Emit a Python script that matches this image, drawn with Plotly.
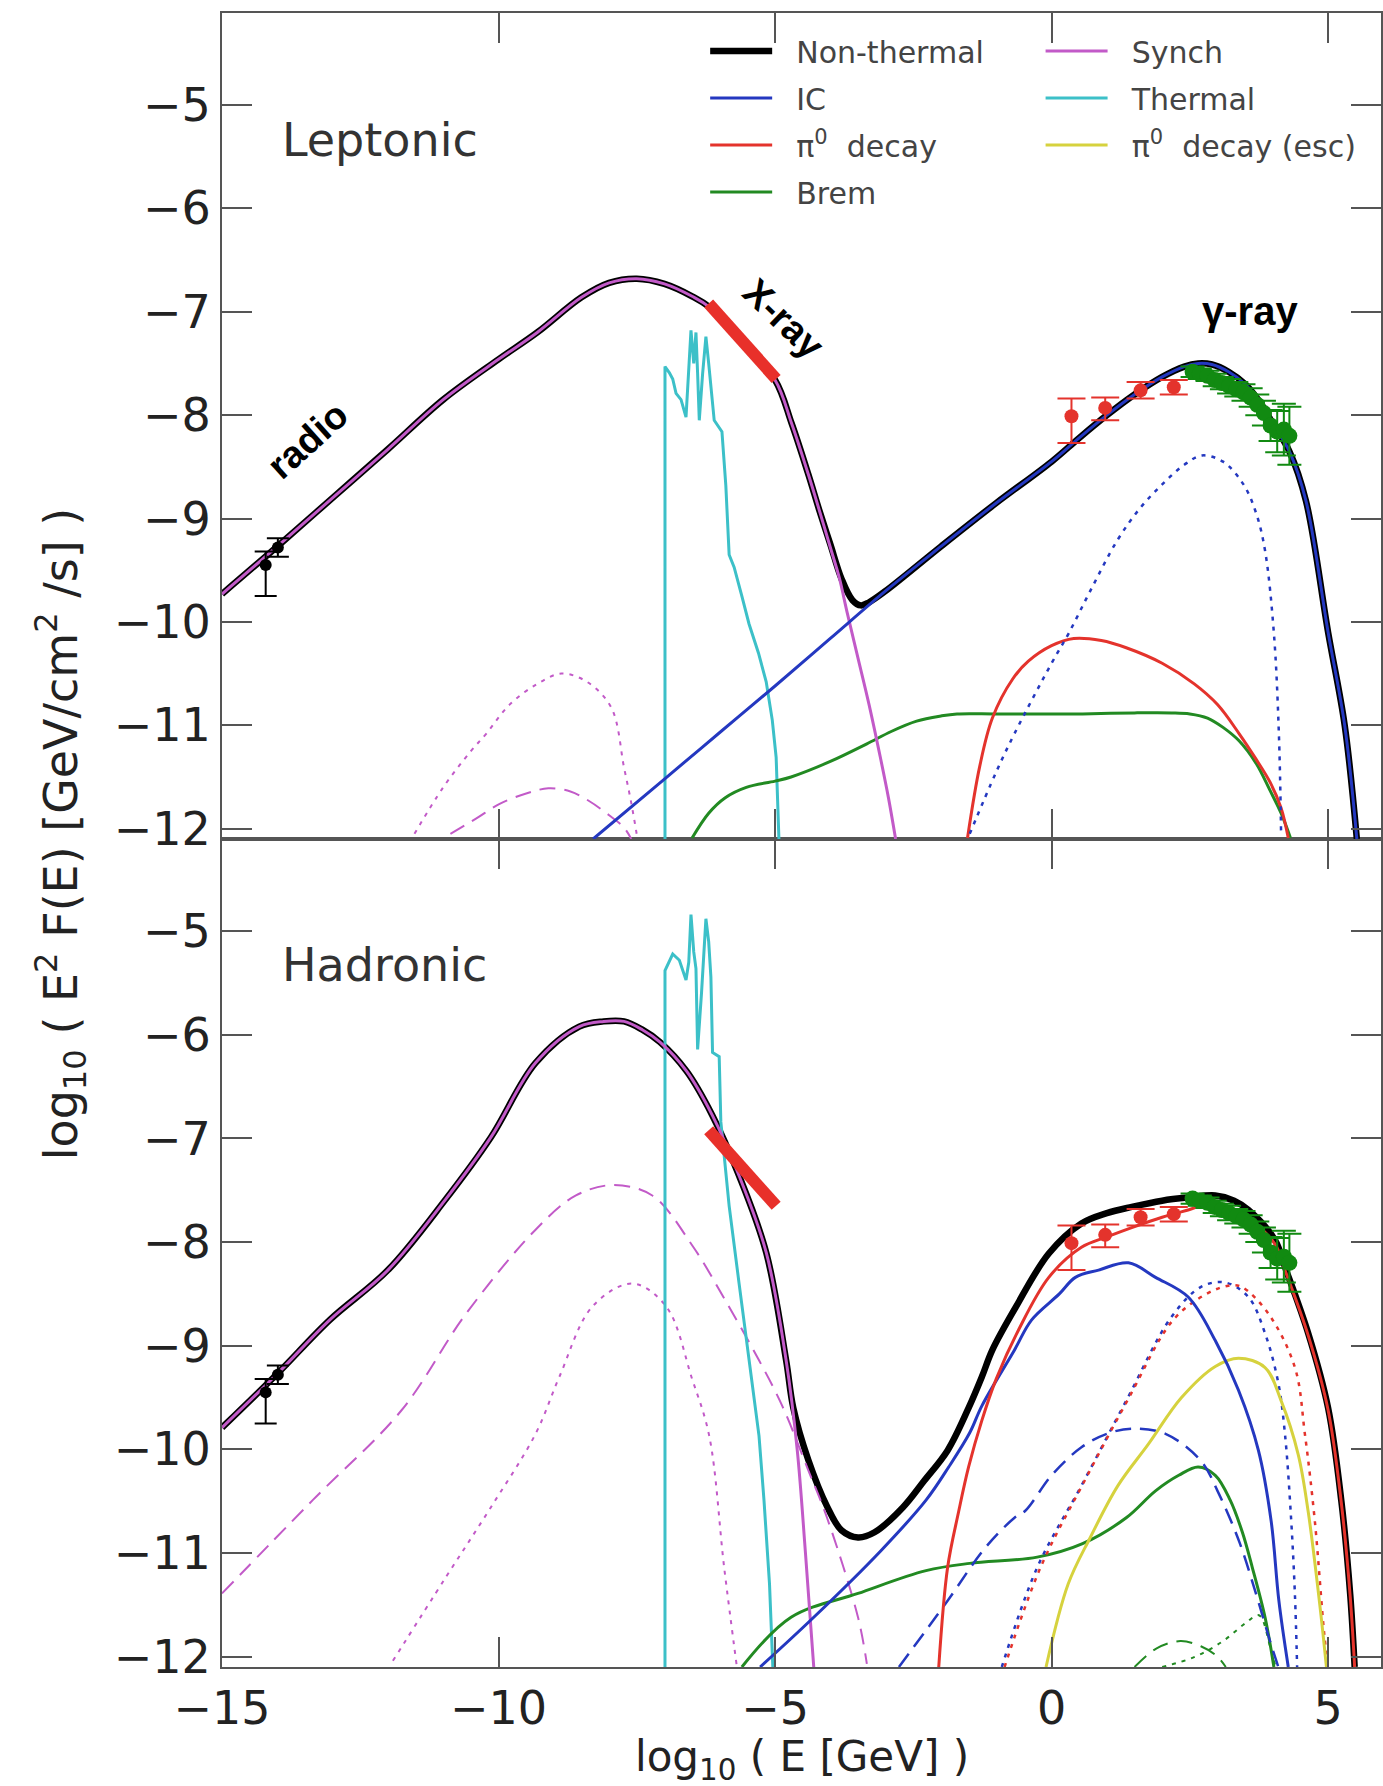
import plotly.graph_objects as go

# ---------------- data (log10 E [GeV], log10 E^2F) ----------------
# Leptonic (top panel)
lep_total_x = [-15, -14, -13, -12, -11, -10, -9.3, -8.5, -8.0, -7.5, -7.0, -6.5, -6.2, -5.6, -5.0, -4.7, -4.4, -4.2,
               -4.0, -3.8, -3.6, -3.45, -3.3, -3.0, -2.0, -1.0, 0.0, 0.5, 1.0, 1.5, 2.0, 2.4, 2.65, 2.9, 3.2, 3.5,
               3.8, 4.0, 4.3, 4.6, 5.0, 5.3, 5.52]
lep_total_y = [-9.73, -9.27, -8.80, -8.33, -7.85, -7.46, -7.20, -6.86, -6.72, -6.68, -6.73, -6.85, -6.95, -7.30,
               -7.66, -8.08, -8.57, -8.92, -9.25, -9.58, -9.79, -9.84, -9.81, -9.70, -9.27, -8.85, -8.45, -8.22,
               -8.00, -7.80, -7.63, -7.53, -7.50, -7.51, -7.58, -7.70, -7.90, -8.08, -8.35, -8.83, -10.10, -11.00,
               -12.10]
lep_synch_x = [-15, -14, -13, -12, -11, -10, -9.3, -8.5, -8.0, -7.5, -7.0, -6.5, -6.2, -5.6, -5.0, -4.7, -4.4,
               -4.2, -4.0, -3.84, -3.7, -3.5, -3.3, -3.1, -2.95, -2.82]
lep_synch_y = [-9.73, -9.27, -8.80, -8.33, -7.85, -7.46, -7.20, -6.86, -6.72, -6.68, -6.73, -6.85, -6.95, -7.30,
               -7.66, -8.08, -8.57, -8.92, -9.28, -9.57, -9.90, -10.35, -10.80, -11.30, -11.70, -12.10]
lep_synch_dot_x = [-11.52, -11.0, -10.5, -10.22, -9.8, -9.3, -8.86, -8.4, -7.96, -7.73, -7.6, -7.49]
lep_synch_dot_y = [-12.05, -11.60, -11.25, -11.08, -10.80, -10.60, -10.50, -10.58, -10.83, -11.41, -11.75, -12.09]
lep_synch_dash_x = [-10.87, -10.4, -9.98, -9.5, -9.1, -8.7, -8.37, -8.0, -7.73, -7.6]
lep_synch_dash_y = [-12.05, -11.90, -11.76, -11.66, -11.61, -11.64, -11.73, -11.87, -11.99, -12.10]
lep_ic_x = [-8.29, -7.0, -6.0, -5.0, -4.0, -3.0, -2.0, -1.0, 0.0, 0.5, 1.0, 1.5, 2.0, 2.4, 2.65, 2.9, 3.2, 3.5,
            3.8, 4.0, 4.3, 4.6, 5.0, 5.3, 5.52]
lep_ic_y = [-12.10, -11.52, -11.07, -10.62, -10.16, -9.70, -9.27, -8.85, -8.45, -8.22, -8.00, -7.80, -7.63, -7.53,
            -7.50, -7.51, -7.58, -7.70, -7.90, -8.08, -8.35, -8.83, -10.10, -11.00, -12.10]
lep_ic_dot_x = [-1.48, -1.0, -0.67, 0.0, 0.31, 0.7, 1.19, 1.6, 2.0, 2.4, 2.72, 3.1, 3.47, 3.7, 3.86, 4.02, 4.11, 4.15]
lep_ic_dot_y = [-12.05, -11.45, -11.08, -10.40, -10.11, -9.70, -9.21, -8.90, -8.67, -8.48, -8.39, -8.45, -8.67,
                -8.95, -9.31, -10.11, -11.08, -12.05]
lep_pi0_x = [-1.52, -1.3, -1.07, -0.7, -0.42, 0.0, 0.4, 0.9, 1.35, 2.0, 2.58, 3.0, 3.39, 3.7, 3.96, 4.15, 4.28]
lep_pi0_y = [-12.09, -11.40, -10.93, -10.55, -10.38, -10.23, -10.16, -10.18, -10.25, -10.40, -10.60, -10.80,
             -11.08, -11.33, -11.56, -11.80, -12.09]
lep_brem_x = [-6.5, -6.2, -5.9, -5.52, -5.0, -4.71, -4.0, -3.34, -2.9, -2.44, -2.0, -1.71, -1.0, 0.0, 0.56, 1.5,
              2.17, 2.5, 2.82, 3.1, 3.39, 3.7, 3.95, 4.15, 4.32]
lep_brem_y = [-12.09, -11.85, -11.70, -11.60, -11.54, -11.50, -11.35, -11.18, -11.06, -10.96, -10.91, -10.89,
              -10.89, -10.89, -10.89, -10.88, -10.88, -10.89, -10.93, -11.02, -11.15, -11.37, -11.63, -11.85, -12.09]
lep_thermal_x = [-6.99, -6.99, -6.91, -6.85, -6.79, -6.70, -6.61, -6.56, -6.52, -6.47, -6.43, -6.40, -6.37, -6.31,
                 -6.25, -6.20, -6.16, -6.10, -5.96, -5.89, -5.83, -5.74, -5.60, -5.47, -5.30, -5.16, -5.05, -4.98,
                 -4.93]
lep_thermal_y = [-12.10, -7.53, -7.59, -7.65, -7.79, -7.85, -8.02, -7.60, -7.18, -7.50, -7.20, -7.60, -8.05, -7.60,
                 -7.24, -7.50, -7.73, -8.05, -8.16, -8.68, -9.35, -9.47, -9.75, -10.02, -10.30, -10.58, -10.95,
                 -11.31, -12.10]

# Hadronic (bottom panel)
had_total_x = [-15, -14, -13.05, -12, -10.96, -10.14, -9.33, -8.54, -8.1, -7.73, -7.4, -7.08, -6.6, -6.14, -5.65,
               -5.16, -4.8, -4.67, -4.4, -4.06, -3.8, -3.5, -3.2, -2.69, -2.3, -1.88, -1.5, -1.26, -1.07, -0.65,
               -0.05, 0.54, 1.0, 1.45, 2.0, 2.47, 2.96, 3.3, 3.56, 4.04, 4.22, 4.64, 5.0, 5.24, 5.4, 5.48]
had_total_y = [-9.79, -9.27, -8.75, -8.27, -7.59, -6.99, -6.27, -5.92, -5.87, -5.87, -5.95, -6.07, -6.35, -6.77,
               -7.36, -8.10, -9.14, -9.60, -10.10, -10.55, -10.78, -10.85, -10.80, -10.56, -10.30, -10.01, -9.60,
               -9.30, -9.04, -8.63, -8.11, -7.82, -7.72, -7.66, -7.60, -7.57, -7.55, -7.60, -7.69, -7.98, -8.24,
               -8.88, -9.60, -10.50, -11.40, -12.10]
had_synch_x = [-15, -14, -13.05, -12, -10.96, -10.14, -9.33, -8.54, -8.1, -7.73, -7.4, -7.08, -6.6, -6.14, -5.65,
               -5.16, -4.8, -4.6, -4.45, -4.3]
had_synch_y = [-9.79, -9.27, -8.75, -8.27, -7.59, -6.99, -6.27, -5.92, -5.87, -5.87, -5.95, -6.07, -6.35, -6.77,
               -7.36, -8.10, -9.14, -10.00, -11.00, -12.10]
had_synch_dash_x = [-15, -13.36, -11.75, -10.6, -9.33, -8.6, -7.94, -7.22, -6.5, -5.88, -5.29, -4.87, -4.4, -4.06,
                    -3.5, -3.34]
had_synch_dash_y = [-11.39, -10.49, -9.62, -8.70, -7.88, -7.55, -7.45, -7.55, -8.03, -8.58, -9.14, -9.58, -10.20,
                    -10.66, -11.62, -12.07]
had_synch_dot_x = [-11.91, -10.96, -10.14, -9.33, -8.9, -8.3, -7.58, -6.97, -6.5, -6.19, -5.92, -5.69]
had_synch_dot_y = [-12.04, -11.24, -10.56, -9.85, -9.30, -8.62, -8.40, -8.62, -9.32, -9.87, -11.14, -12.10]
had_ic_x = [-5.27, -4.3, -3.09, -2.27, -1.86, -1.48, -1.26, -0.67, -0.36, 0.14, 0.43, 0.85, 1.39, 1.88, 2.47, 2.96,
            3.38, 3.74, 3.97, 4.11, 4.28]
had_ic_y = [-12.10, -11.62, -10.98, -10.49, -10.17, -9.84, -9.58, -9.04, -8.75, -8.50, -8.34, -8.27, -8.20, -8.34,
            -8.53, -8.95, -9.43, -10.01, -10.69, -11.46, -12.10]
had_ic_dash_x = [-2.76, -1.88, -1.2, -0.67, -0.47, 0.0, 0.54, 1.0, 1.45, 2.06, 2.7, 3.0, 3.4, 3.7, 3.95, 4.1]
had_ic_dash_y = [-12.10, -11.46, -10.95, -10.66, -10.59, -10.25, -9.98, -9.85, -9.80, -9.85, -10.11, -10.40,
                 -10.90, -11.40, -11.85, -12.10]
had_ic_dot_x = [-0.9, -0.26, 0.56, 1.35, 2.17, 2.71, 3.14, 3.56, 3.86, 4.1, 4.22, 4.33, 4.4, 4.44]
had_ic_dot_y = [-12.10, -11.14, -10.33, -9.53, -8.72, -8.43, -8.39, -8.53, -8.88, -9.36, -9.85, -10.66, -11.40,
                -12.10]
had_pi0_x = [-2.04, -1.88, -1.68, -1.5, -1.26, -1.0, -0.6, -0.05, 0.54, 1.0, 1.45, 2.0, 2.47, 2.96, 3.5, 4.04,
             4.22, 4.64, 5.0, 5.24, 5.4, 5.48]
had_pi0_y = [-12.10, -11.14, -10.60, -10.17, -9.72, -9.32, -8.85, -8.34, -8.05, -7.95, -7.86, -7.76, -7.69, -7.62,
             -7.75, -8.02, -8.27, -8.90, -9.62, -10.52, -11.42, -12.10]
had_pi0_dot_x = [-0.85, -0.2, 0.6, 1.4, 2.2, 2.8, 3.2, 3.43, 3.92, 4.4, 4.58, 4.76, 4.93, 5.0]
had_pi0_dot_y = [-12.10, -11.14, -10.30, -9.50, -8.75, -8.50, -8.42, -8.43, -8.69, -9.21, -9.85, -10.69, -11.78,
                 -12.10]
had_esc_x = [-0.1, 0.3, 0.7, 1.2, 1.75, 2.35, 2.96, 3.38, 3.86, 4.15, 4.46, 4.64, 4.85, 4.97]
had_esc_y = [-12.10, -11.30, -10.85, -10.35, -9.95, -9.50, -9.20, -9.12, -9.21, -9.53, -10.05, -10.60, -11.50,
             -12.10]
had_brem_x = [-5.6, -4.71, -3.5, -2.27, -1.48, -0.26, 0.56, 1.35, 1.88, 2.3, 2.65, 2.96, 3.23, 3.45, 3.63, 3.86, 4.02]
had_brem_y = [-12.10, -11.62, -11.39, -11.17, -11.10, -11.04, -10.91, -10.66, -10.40, -10.25, -10.17, -10.25,
              -10.49, -10.80, -11.14, -11.62, -12.10]
had_brem_dash_x = [1.5, 1.9, 2.33, 2.7, 3.0, 3.15]
had_brem_dash_y = [-12.10, -11.92, -11.85, -11.90, -12.00, -12.10]
had_brem_dot_x = [2.0, 2.6, 3.1, 3.5, 3.75, 3.95, 4.05]
had_brem_dot_y = [-12.10, -12.00, -11.85, -11.68, -11.60, -11.90, -12.10]
had_thermal_x = [-6.99, -6.99, -6.85, -6.73, -6.61, -6.56, -6.52, -6.47, -6.43, -6.40, -6.33, -6.25, -6.20, -6.16,
                 -6.13, -6.05, -6.01, -5.98, -5.89, -5.83, -5.65, -5.47, -5.29, -5.20, -5.10, -5.04]
had_thermal_y = [-12.10, -5.38, -5.22, -5.28, -5.47, -5.30, -4.84, -5.20, -5.36, -6.14, -5.60, -4.88, -5.10, -5.44,
                 -6.17, -6.20, -6.21, -6.84, -7.29, -7.65, -8.40, -9.14, -9.87, -10.49, -11.30, -12.10]

# Observations
radio_x = [-14.21, -13.99]
radio_y = [-9.45, -9.28]
radio_ep = [0.13, 0.09]
radio_em = [0.30, 0.09]
xray_x = [-6.2, -4.98]
xray_y = [-6.92, -7.65]
fermi_x = [0.36, 0.97, 1.61, 2.21]
fermi_y = [-8.01, -7.93, -7.76, -7.73]
fermi_ep = [0.17, 0.10, 0.08, 0.07]
fermi_em = [0.26, 0.12, 0.08, 0.07]
tev_x = [2.55, 2.68, 2.82, 2.95, 3.08, 3.21, 3.34, 3.47, 3.60, 3.72, 3.84, 3.96, 4.08, 4.20, 4.30]
tev_y = [-7.58, -7.60, -7.62, -7.66, -7.69, -7.72, -7.75, -7.78, -7.83, -7.90, -7.98, -8.10, -8.16, -8.14, -8.20]
tev_err = [0.05, 0.05, 0.05, 0.06, 0.06, 0.07, 0.07, 0.08, 0.09, 0.10, 0.12, 0.15, 0.20, 0.25, 0.28]

tick_x = [-15, -10, -5, 0, 5]
tick_y = [-12, -11, -10, -9, -8, -7, -6, -5]

# ---------------- styling ----------------
C_TOT = "#000000"
C_IC = "#2438c0"
C_PI = "#e4332c"
C_BREM = "#228a22"
C_SYN = "#c25ac8"
C_TH = "#3cc0c8"
C_ESC = "#d6d23e"
DASH = "16px,9px"
DOT = "4px,6px"
W_TOT = 6.5
W_C = 3
NB = "\u00a0\u00a0"

W, H = 1383, 1786
ML, MR, MT, MB = 222, 0, 13, 119
PH = H - MT - MB
SPLIT = 828 / PH

fig = go.Figure()


def line(x, y, color, width, panel, dash="solid", name=None, legend=None, rank=None, smooth=True):
    xa, ya = ("x2", "y2") if panel == "top" else ("x", "y")
    show = legend is not None
    fig.add_trace(go.Scatter(
        x=x, y=y, mode="lines", xaxis=xa, yaxis=ya,
        line=dict(color=color, width=width, dash=dash,
                  shape="spline" if smooth else "linear", smoothing=1.0),
        name=(NB + name) if name else None, showlegend=show, legend=legend if show else None,
        legendgroup=name if show else None, legendrank=rank if rank else 1000, hoverinfo="skip"))


# --- top panel ---
line(lep_total_x, lep_total_y, C_TOT, W_TOT, "top", name="Non-thermal", legend="legend", rank=1)
line(lep_synch_dot_x, lep_synch_dot_y, C_SYN, 2, "top", DOT)
line(lep_synch_dash_x, lep_synch_dash_y, C_SYN, 2, "top", DASH)
line(lep_thermal_x, lep_thermal_y, C_TH, W_C, "top", name="Thermal", legend="legend2", rank=2, smooth=False)
line(lep_brem_x, lep_brem_y, C_BREM, W_C, "top")
line(lep_pi0_x, lep_pi0_y, C_PI, W_C, "top")
line(lep_ic_dot_x, lep_ic_dot_y, C_IC, 2.5, "top", DOT)
line(lep_synch_x, lep_synch_y, C_SYN, W_C, "top", name="Synch", legend="legend2", rank=1)
line(lep_ic_x, lep_ic_y, C_IC, W_C, "top")

# --- bottom panel ---
line(had_total_x, had_total_y, C_TOT, W_TOT, "bot")
line(had_synch_dash_x, had_synch_dash_y, C_SYN, 2, "bot", DASH)
line(had_synch_dot_x, had_synch_dot_y, C_SYN, 2, "bot", DOT)
line(had_thermal_x, had_thermal_y, C_TH, W_C, "bot", smooth=False)
line(had_brem_dash_x, had_brem_dash_y, C_BREM, 2, "bot", DASH)
line(had_brem_dot_x, had_brem_dot_y, C_BREM, 2, "bot", DOT)
line(had_brem_x, had_brem_y, C_BREM, W_C, "bot", name="Brem", legend="legend", rank=4)
line(had_ic_dash_x, had_ic_dash_y, C_IC, 2.5, "bot", DASH)
line(had_ic_dot_x, had_ic_dot_y, C_IC, 2.5, "bot", DOT)
line(had_pi0_dot_x, had_pi0_dot_y, C_PI, 2.5, "bot", DOT)
line(had_esc_x, had_esc_y, C_ESC, W_C, "bot", name="π<sup>0</sup>  decay (esc)", legend="legend2", rank=3)
line(had_synch_x, had_synch_y, C_SYN, W_C, "bot")
line(had_ic_x, had_ic_y, C_IC, W_C, "bot", name="IC", legend="legend", rank=2)
line(had_pi0_x, had_pi0_y, C_PI, W_C, "bot", name="π<sup>0</sup>  decay", legend="legend", rank=3)

# --- observations in both panels ---
for xa, ya in (("x2", "y2"), ("x", "y")):
    fig.add_trace(go.Scatter(x=xray_x, y=xray_y, mode="lines", xaxis=xa, yaxis=ya,
                             line=dict(color="#e8302a", width=12), showlegend=False, hoverinfo="skip"))
    fig.add_trace(go.Scatter(x=radio_x, y=radio_y, mode="markers", xaxis=xa, yaxis=ya,
                             marker=dict(color="black", size=12),
                             error_y=dict(type="data", array=radio_ep, arrayminus=radio_em,
                                          color="black", thickness=2, width=11),
                             showlegend=False, hoverinfo="skip"))
    fig.add_trace(go.Scatter(x=fermi_x, y=fermi_y, mode="markers", xaxis=xa, yaxis=ya,
                             marker=dict(color="#e4332c", size=14),
                             error_y=dict(type="data", array=fermi_ep, arrayminus=fermi_em,
                                          color="#e4332c", thickness=2, width=14),
                             showlegend=False, hoverinfo="skip"))
    fig.add_trace(go.Scatter(x=tev_x, y=tev_y, mode="markers", xaxis=xa, yaxis=ya,
                             marker=dict(color="#118a11", size=16),
                             error_y=dict(type="data", array=tev_err, color="#118a11", thickness=2, width=12),
                             showlegend=False, hoverinfo="skip"))

# ---------------- axes ----------------
TICKFONT = dict(family="DejaVu Sans", size=46, color="#222222")
common = dict(showline=True, linecolor="#555555", linewidth=2, mirror="ticks", ticks="inside",
              ticklen=30, tickwidth=2, tickcolor="#555555", showgrid=False, zeroline=False,
              tickfont=TICKFONT)
XR = [-15, -15 + (W - ML) / 55.4]
YR = [-12.1, -4.11]
fig.update_layout(
    xaxis=dict(domain=[0, 1], range=XR, anchor="y", tickvals=tick_x,
               ticktext=["−15", "−10", "−5", "0", "5"], **common),
    yaxis=dict(domain=[0, SPLIT], range=YR, anchor="x", tickvals=tick_y,
               ticktext=["−%d" % -v for v in tick_y], **common),
    xaxis2=dict(domain=[0, 1], range=XR, anchor="y2", matches="x", tickvals=tick_x,
                showticklabels=False, **common),
    yaxis2=dict(domain=[SPLIT, 1], range=YR, anchor="x2", tickvals=tick_y,
                ticktext=["−%d" % -v for v in tick_y], **common),
)

LEGFONT = dict(family="DejaVu Sans", size=30, color="#444444")
fig.update_layout(
    legend=dict(x=(706 - ML) / (W - ML), y=1 - 12 / PH, xanchor="left", yanchor="top",
                font=LEGFONT, bgcolor="rgba(0,0,0,0)", traceorder="grouped", tracegroupgap=5,
                itemwidth=62),
    legend2=dict(x=(1042 - ML) / (W - ML), y=1 - 12 / PH, xanchor="left", yanchor="top",
                 font=LEGFONT, bgcolor="rgba(0,0,0,0)", traceorder="grouped", tracegroupgap=5,
                 itemwidth=62),
)

# ---------------- text ----------------
ann = []
ann.append(dict(text="Leptonic", xref="paper", yref="paper", x=(280 - ML) / (W - ML), y=1 - (140 - MT) / PH,
                xanchor="left", yanchor="middle", showarrow=False,
                font=dict(family="DejaVu Sans", size=46, color="#333333")))
ann.append(dict(text="Hadronic", xref="paper", yref="paper", x=(280 - ML) / (W - ML), y=1 - (965 - MT) / PH,
                xanchor="left", yanchor="middle", showarrow=False,
                font=dict(family="DejaVu Sans", size=46, color="#333333")))
BOLD = dict(family="Liberation Sans", size=38, color="black")
ann.append(dict(text="<b>radio</b>", xref="x2", yref="y2", x=-13.45, y=-8.24, textangle=-42,
                showarrow=False, font=BOLD))
ann.append(dict(text="<b>X-ray</b>", xref="x2", yref="y2", x=-4.84, y=-7.07, textangle=44,
                showarrow=False, font=BOLD))
ann.append(dict(text="<b>γ-ray</b>", xref="x2", yref="y2", x=3.59, y=-6.99,
                showarrow=False, font=dict(family="Liberation Sans", size=40, color="black")))
ann.append(dict(text="log<sub>10</sub> ( E<sup>2</sup> F(E) [GeV/cm<sup>2</sup> /s] )",
                xref="paper", yref="paper", x=(60 - ML) / (W - ML), y=(H - MB - 834) / PH,
                xanchor="center", yanchor="middle", textangle=-90, showarrow=False,
                font=dict(family="DejaVu Sans", size=46, color="#222222")))
ann.append(dict(text="log<sub>10</sub> ( E [GeV] )", xref="paper", yref="paper",
                x=(803 - ML) / (W - ML), y=(H - MB - 1759) / PH,
                xanchor="center", yanchor="middle", showarrow=False,
                font=dict(family="DejaVu Sans", size=42, color="#222222")))

fig.update_layout(
    width=W, height=H, margin=dict(l=ML, r=MR, t=MT, b=MB, pad=0),
    paper_bgcolor="white", plot_bgcolor="white", annotations=ann,
    font=dict(family="DejaVu Sans"),
)

fig.write_html("out.html")
